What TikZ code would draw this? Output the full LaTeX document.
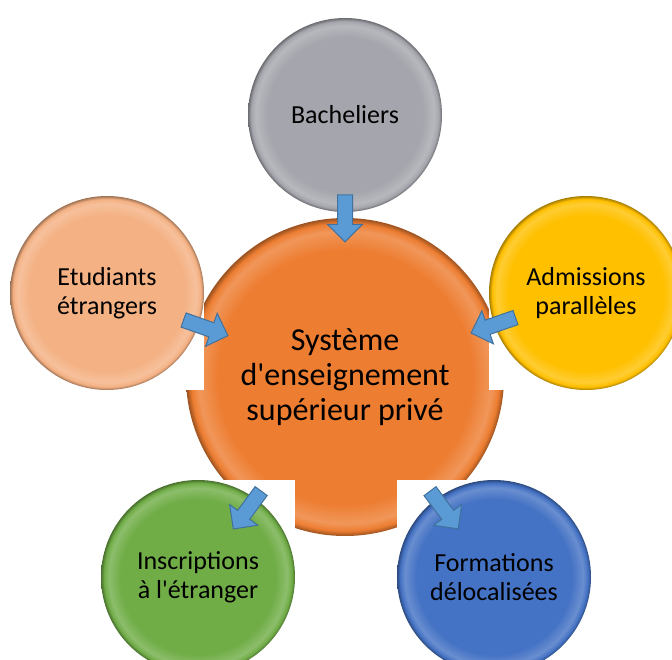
\documentclass[tikz,border=0pt]{standalone}
\usepackage{fontspec}
\setmainfont{Carlito}
\usetikzlibrary{shapes,arrows,positioning,calc}

\definecolor{hubor}{HTML}{ED7D31}
\definecolor{bachgr}{HTML}{A5A5AD}
\definecolor{etupe}{HTML}{F4B183}
\definecolor{admye}{HTML}{FFC000}
\definecolor{insgn}{HTML}{70AD47}
\definecolor{forbl}{HTML}{4472C4}
\definecolor{arrfill}{HTML}{5B9BD5}
\definecolor{arrline}{HTML}{41719C}
\colorlet{ballcol}{gray}

% soft rim on the discs
\pgfdeclareradialshading[ballcol]{bevel}{\pgfpoint{0bp}{0bp}}{%
  color(0bp)=(ballcol); color(20bp)=(ballcol); color(23bp)=(ballcol!80!white);
  color(24.2bp)=(ballcol); color(25bp)=(ballcol!65!black); color(50bp)=(ballcol!65!black)}

\begin{document}
\begin{tikzpicture}[x=1pt, y=1pt,
    ball/.style={circle, minimum size=194pt, inner sep=0pt, shade, shading=bevel,
        /utils/exec={\colorlet{ballcol}{#1}}, align=center, font=\fontsize{26}{29}\selectfont},
    hub/.style={ball=#1, minimum size=318pt, font=\fontsize{32}{35}\selectfont},
    frame/.style={rectangle, fill=white, minimum size=194pt, inner sep=0pt},
    barrow/.style={single arrow, fill=arrfill, draw=arrline, line width=1pt,
        inner xsep=0pt, inner ysep=7pt, single arrow head extend=10pt,
        single arrow head indent=0pt, minimum height=47pt, sloped, allow upside down}
]
\useasboundingbox (0,0) rectangle (672,659);

% Centre
\node[hub=hubor] (sys) at (345,282) {Système\\d\textquotesingle enseignement\\supérieur privé};

% Outer discs (white frame behind each one)
\node[frame] (bachfr) at (345,544) {};
\node[ball=bachgr] (bach) at (bachfr) {Bacheliers};

\node[frame] (etudfr) at (107,366) {};
\node[ball=etupe] (etud) at (etudfr) {Etudiants\\étrangers};

\node[frame] (admfr) at (586,366) {};
\node[ball=admye] (adm) at (admfr) {Admissions\\parallèles};

\node[frame] (insfr) at (198,82) {};
\node[ball=insgn] (ins) at (insfr) {Inscriptions\\à l\textquotesingle étranger};

\node[frame] (forfr) at (494,82) {};
\node[ball=forbl] (for) at (forfr) {Formations\\délocalisées};

% Arrows
\path (bach.center) -- node[barrow, pos=0.38] {} (sys.center);
\path (etud.center) -- node[barrow, pos=0.40] {} (sys.center);
\path (adm.center) -- node[barrow, pos=0.37] {} (sys.center);
\path (sys.center) -- node[barrow, pos=0.65] {} (ins.center);
\path (sys.center) -- node[barrow, pos=0.65] {} (for.center);

\end{tikzpicture}
\end{document}
